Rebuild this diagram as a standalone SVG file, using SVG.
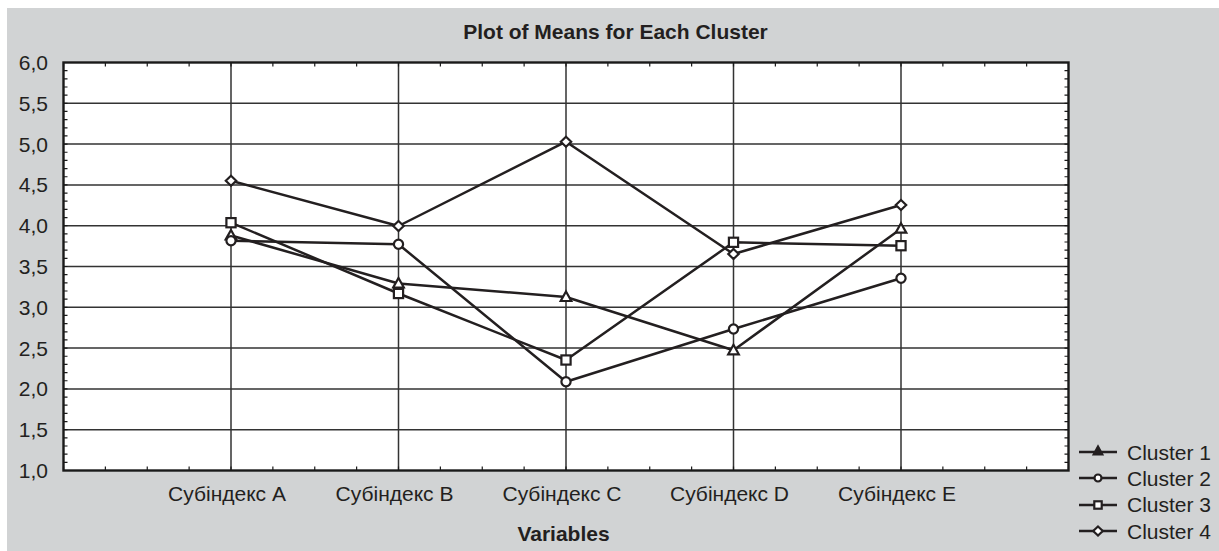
<svg xmlns="http://www.w3.org/2000/svg" width="1219" height="551" viewBox="0 0 1219 551">
<style>
.bg{fill:#d1d3d4}
.grid{stroke:#333333;stroke-width:1.5;fill:none}
.frame{stroke:#1a1a1a;stroke-width:2.4;fill:none}
.tick{stroke:#1a1a1a;fill:none}
.ser{stroke:#231f20;stroke-width:2.5;fill:none;stroke-linejoin:round}
.mk{stroke:#231f20;stroke-width:2.2;fill:#ffffff}
.lab{font-family:"Liberation Sans",Arial,sans-serif;font-size:21px;fill:#231f20}
.b{font-weight:bold}
</style>
<defs>
<path id="tri" d="M0,-5.5 L5.3,4 L-5.3,4 Z"/>
<circle id="cir" r="4.6"/>
<rect id="sq" x="-4.6" y="-4.6" width="9.2" height="9.2"/>
<path id="dia" d="M0,-5 L5.2,0 L0,5 L-5.2,0 Z"/>
</defs>
<rect class="bg" x="7" y="8" width="1212" height="543"/>
<text class="lab b" x="615.5" y="39" text-anchor="middle">Plot of Means for Each Cluster</text>
<g id="plot-area">
<rect x="63.5" y="62.5" width="1005" height="408" fill="#ffffff"/>
<g id="gridlines">
<path class="grid" d="M63.5,103.3H1068.5M63.5,144.1H1068.5M63.5,184.9H1068.5M63.5,225.7H1068.5M63.5,266.5H1068.5M63.5,307.3H1068.5M63.5,348.1H1068.5M63.5,388.9H1068.5M63.5,429.7H1068.5"/>
<path class="grid" d="M231,62.5V470.5M398.5,62.5V470.5M566,62.5V470.5M733.5,62.5V470.5M901,62.5V470.5"/>
</g>
<g id="ticks">
<line class="tick" x1="65.5" y1="61.9" x2="65.5" y2="471.2" stroke-width="4" stroke-dasharray="1.2 6.96"/>
<line class="tick" x1="1066.5" y1="61.9" x2="1066.5" y2="471.2" stroke-width="4" stroke-dasharray="1.2 6.96"/>
<line class="tick" x1="62.9" y1="64.5" x2="1069" y2="64.5" stroke-width="4" stroke-dasharray="1.2 40.675"/>
<line class="tick" x1="62.9" y1="468.5" x2="1069" y2="468.5" stroke-width="4" stroke-dasharray="1.2 40.675"/>
</g>
<rect class="frame" x="63.5" y="62.5" width="1005" height="408"/>
</g>
<g id="y-labels" class="lab" text-anchor="end">
<text x="48" y="70">6,0</text>
<text x="48" y="110.8">5,5</text>
<text x="48" y="151.6">5,0</text>
<text x="48" y="192.4">4,5</text>
<text x="48" y="233.2">4,0</text>
<text x="48" y="274">3,5</text>
<text x="48" y="314.8">3,0</text>
<text x="48" y="355.6">2,5</text>
<text x="48" y="396.4">2,0</text>
<text x="48" y="437.2">1,5</text>
<text x="48" y="478">1,0</text>
</g>
<g id="x-labels" class="lab" text-anchor="middle">
<text x="227" y="501">Субіндекс A</text>
<text x="394.5" y="501">Субіндекс B</text>
<text x="562" y="501">Субіндекс C</text>
<text x="729.5" y="501">Субіндекс D</text>
<text x="897" y="501">Субіндекс E</text>
</g>
<text class="lab b" x="563.5" y="541" text-anchor="middle">Variables</text>
<g id="connectors">
<polyline id="line-c1" class="ser" points="231,235.5 398.5,283.5 566,297 733.5,350.3 901,228.7"/>
<polyline id="line-c2" class="ser" points="231,240.7 398.5,244.3 566,381.7 733.5,329 901,278.3"/>
<polyline id="line-c3" class="ser" points="231,222.7 398.5,293.5 566,360 733.5,242.3 901,245.7"/>
<polyline id="line-c4" class="ser" points="231,180.7 398.5,226 566,141.7 733.5,254 901,205"/>
</g>
<g id="cluster1" class="mk">
<use href="#tri" x="231" y="235.5"/><use href="#tri" x="398.5" y="283.5"/><use href="#tri" x="566" y="297"/><use href="#tri" x="733.5" y="350.3"/><use href="#tri" x="901" y="228.7"/>
</g>
<g id="cluster2" class="mk">
<use href="#cir" x="231" y="240.7"/><use href="#cir" x="398.5" y="244.3"/><use href="#cir" x="566" y="381.7"/><use href="#cir" x="733.5" y="329"/><use href="#cir" x="901" y="278.3"/>
</g>
<g id="cluster3" class="mk">
<use href="#sq" x="231" y="222.7"/><use href="#sq" x="398.5" y="293.5"/><use href="#sq" x="566" y="360"/><use href="#sq" x="733.5" y="242.3"/><use href="#sq" x="901" y="245.7"/>
</g>
<g id="cluster4" class="mk">
<use href="#dia" x="231" y="180.7"/><use href="#dia" x="398.5" y="226"/><use href="#dia" x="566" y="141.7"/><use href="#dia" x="733.5" y="254"/><use href="#dia" x="901" y="205"/>
</g>
<g id="legend">
<g id="legend-c1">
<line class="ser" x1="1079" y1="452" x2="1117" y2="452"/>
<path class="mk" style="fill:#231f20" d="M1098,446.5 L1102.3,454.5 L1093.7,454.5 Z"/>
<text class="lab" x="1127" y="459.5">Cluster 1</text>
</g>
<g id="legend-c2">
<line class="ser" x1="1079" y1="478" x2="1117" y2="478"/>
<circle class="mk" cx="1098" cy="478" r="3.5"/>
<text class="lab" x="1127" y="485.5">Cluster 2</text>
</g>
<g id="legend-c3">
<line class="ser" x1="1079" y1="505" x2="1117" y2="505"/>
<rect class="mk" x="1094.3" y="501.3" width="7.4" height="7.4"/>
<text class="lab" x="1127" y="512">Cluster 3</text>
</g>
<g id="legend-c4">
<line class="ser" x1="1079" y1="531" x2="1117" y2="531"/>
<path class="mk" d="M1098,526.5 L1102.8,531 L1098,535.5 L1093.2,531 Z"/>
<text class="lab" x="1127" y="538.5">Cluster 4</text>
</g>
</g>
</svg>
